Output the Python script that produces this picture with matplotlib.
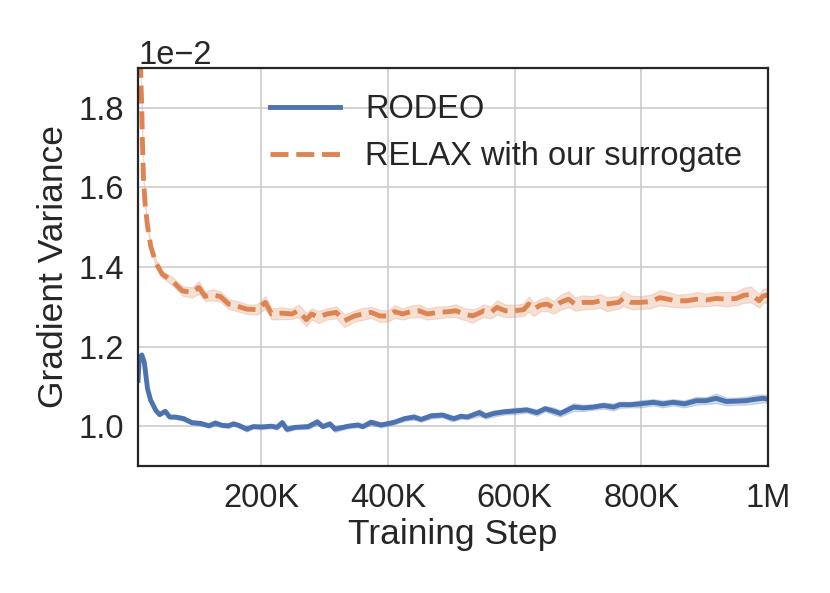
import matplotlib
matplotlib.use("Agg")
import matplotlib.pyplot as plt
from matplotlib.ticker import ScalarFormatter
import numpy as np

# ---- data (values in units of 1e-2, steps in thousands) ----
rodeo_steps_k = [5, 7, 11, 15, 20, 25, 33, 39, 48, 55,
                 64, 77, 90, 104, 117, 127, 138, 148, 156, 164,
                 177, 187, 200, 216, 224, 233, 240, 253, 274, 288,
                 297, 308, 316, 337, 352, 360, 373, 389, 410, 426,
                 441, 452, 468, 486, 499, 504, 515, 525, 544, 554,
                 567, 583, 599, 619, 635, 648, 661, 672, 693, 708,
                 724, 740, 756, 766, 782, 798, 819, 834, 850, 868,
                 887, 902, 918, 934, 950, 965, 981, 992, 1000]
rodeo_mean = [1.115, 1.17, 1.179, 1.16, 1.094, 1.065, 1.04, 1.029, 1.0375, 1.023,
              1.023, 1.019, 1.009, 1.007, 1.001, 1.008, 1.002, 1.001, 1.006, 1.002,
              0.9925, 0.999, 0.998, 1.0, 0.997, 1.009, 0.992, 0.997, 0.999, 1.011,
              0.999, 1.006, 0.9925, 1.0, 1.003, 0.999, 1.01, 1.003, 1.01, 1.019,
              1.023, 1.017, 1.026, 1.028, 1.021, 1.019, 1.025, 1.023, 1.034, 1.026,
              1.032, 1.036, 1.038, 1.041, 1.034, 1.044, 1.038, 1.032, 1.048, 1.046,
              1.048, 1.052, 1.048, 1.054, 1.054, 1.056, 1.06, 1.056, 1.06, 1.056,
              1.064, 1.064, 1.07, 1.062, 1.063, 1.064, 1.068, 1.07, 1.068]
rodeo_err = [0.004, 0.006, 0.006, 0.005, 0.005, 0.005, 0.004, 0.004, 0.005, 0.004,
             0.005, 0.006, 0.005, 0.006, 0.005, 0.007, 0.005, 0.006, 0.005, 0.006,
             0.006, 0.005, 0.006, 0.005, 0.006, 0.007, 0.006, 0.005, 0.006, 0.007,
             0.005, 0.006, 0.007, 0.005, 0.006, 0.005, 0.007, 0.006, 0.005, 0.006,
             0.007, 0.006, 0.007, 0.006, 0.008, 0.006, 0.007, 0.006, 0.009, 0.007,
             0.008, 0.007, 0.008, 0.007, 0.008, 0.007, 0.009, 0.008, 0.010, 0.008,
             0.007, 0.008, 0.009, 0.008, 0.007, 0.009, 0.008, 0.009, 0.008, 0.009,
             0.010, 0.009, 0.012, 0.010, 0.009, 0.010, 0.011, 0.010, 0.010]

relax_steps_k = [5, 9, 11, 12, 13.5, 16, 20, 25, 33, 43,
                 59, 75, 90, 101, 111, 122, 135, 148, 161, 177,
                 193, 206, 216, 232, 248, 258, 271, 279, 290, 303,
                 318, 331, 347, 360, 373, 387, 400, 410, 423, 436,
                 449, 462, 478, 494, 507, 520, 533, 541, 551, 562,
                 572, 585, 599, 614, 622, 630, 640, 651, 661, 672,
                 685, 695, 708, 724, 735, 745, 764, 771, 784, 798,
                 814, 829, 842, 855, 871, 887, 902, 918, 934, 950,
                 962, 973, 986, 992, 1000]
relax_mean = [2.05, 1.90, 1.794, 1.711, 1.6275, 1.561, 1.5025, 1.4525, 1.411, 1.382,
              1.365, 1.34, 1.336, 1.3485, 1.326, 1.33, 1.326, 1.307, 1.302, 1.294,
              1.293, 1.311, 1.282, 1.284, 1.282, 1.29, 1.2675, 1.282, 1.274, 1.282,
              1.286, 1.265, 1.277, 1.282, 1.286, 1.277, 1.277, 1.288, 1.282, 1.288,
              1.29, 1.282, 1.286, 1.2875, 1.29, 1.282, 1.277, 1.282, 1.29, 1.286,
              1.2985, 1.29, 1.29, 1.2925, 1.307, 1.294, 1.304, 1.307, 1.2985, 1.311,
              1.319, 1.307, 1.311, 1.311, 1.315, 1.307, 1.311, 1.321, 1.311, 1.311,
              1.313, 1.323, 1.319, 1.315, 1.315, 1.319, 1.317, 1.321, 1.319, 1.321,
              1.329, 1.331, 1.315, 1.327, 1.33]
relax_err = [0.004, 0.005, 0.006, 0.006, 0.006, 0.006, 0.006, 0.007, 0.008, 0.009,
             0.010, 0.012, 0.013, 0.016, 0.012, 0.014, 0.013, 0.012, 0.013, 0.012,
             0.013, 0.016, 0.014, 0.015, 0.013, 0.016, 0.017, 0.014, 0.015, 0.014,
             0.015, 0.016, 0.014, 0.015, 0.014, 0.015, 0.014, 0.016, 0.014, 0.015,
             0.016, 0.014, 0.015, 0.014, 0.016, 0.015, 0.017, 0.015, 0.016, 0.015,
             0.018, 0.016, 0.015, 0.016, 0.019, 0.017, 0.016, 0.018, 0.016, 0.019,
             0.020, 0.017, 0.018, 0.016, 0.017, 0.018, 0.016, 0.019, 0.017, 0.016,
             0.017, 0.019, 0.018, 0.016, 0.017, 0.018, 0.016, 0.017, 0.018, 0.017,
             0.019, 0.020, 0.017, 0.018, 0.018]

series_labels = ["RODEO", "RELAX with our surrogate"]
xtick_steps_k = [200, 400, 600, 800, 1000]
xtick_labels = ["200K", "400K", "600K", "800K", "1M"]
ytick_vals = [1.0, 1.2, 1.4, 1.6, 1.8]
scale = 1e-2

# ---- style ----
plt.rcParams['font.family'] = ['Liberation Sans', 'DejaVu Sans']
plt.rcParams['text.color'] = '#262626'
plt.rcParams['axes.labelcolor'] = '#262626'
plt.rcParams['xtick.color'] = '#262626'
plt.rcParams['ytick.color'] = '#262626'

TICK_FS = 23.5
LABEL_FS = 25.5

blue = '#4C72B0'
orange = '#DD8452'

fig = plt.figure(figsize=(8.3, 5.93), dpi=100)
ax = fig.add_axes([0.1663, 0.2142, 0.7590, 0.6711])

rx = np.array(rodeo_steps_k) * 1000
ry = np.array(rodeo_mean) * scale
re = np.array(rodeo_err) * scale
lx = np.array(relax_steps_k) * 1000
ly = np.array(relax_mean) * scale
le = np.array(relax_err) * scale

ax.fill_between(rx, ry - re, ry + re, color=blue, alpha=0.25, lw=0.8)
ax.plot(rx, ry, color=blue, lw=3.5, label=series_labels[0])
ax.fill_between(lx, ly - le, ly + le, color=orange, alpha=0.25, lw=0.8)
ax.plot(lx, ly, color=orange, lw=3.5, ls='--', label=series_labels[1])

ax.set_xlim(5000, 1000000)
ax.set_ylim(0.9 * scale, 1.9 * scale)
ax.set_xticks(np.array(xtick_steps_k) * 1000)
ax.set_xticklabels(xtick_labels)
ax.set_yticks(np.array(ytick_vals) * scale)
fmt = ScalarFormatter(useMathText=False)
fmt.set_powerlimits((-1, 1))
ax.yaxis.set_major_formatter(fmt)

ax.grid(True, color='#cccccc', lw=1.2)
ax.set_axisbelow(True)
for s in ax.spines.values():
    s.set_color('#262626')
    s.set_linewidth(1.6)
ax.tick_params(axis='both', length=0, labelsize=TICK_FS)
ax.tick_params(axis='x', pad=12)
ax.tick_params(axis='y', pad=10)

ax.set_xlabel("Training Step", fontsize=LABEL_FS, labelpad=3)
ax.set_ylabel("Gradient Variance", fontsize=LABEL_FS, labelpad=6)
ax.yaxis.get_offset_text().set_fontsize(TICK_FS)

ax.legend(loc='upper right', frameon=False, fontsize=TICK_FS, handlelength=2.15,
          labelspacing=0.5, handletextpad=0.75, borderaxespad=0.4)

fig.savefig("out.png", dpi=100, facecolor='white')
